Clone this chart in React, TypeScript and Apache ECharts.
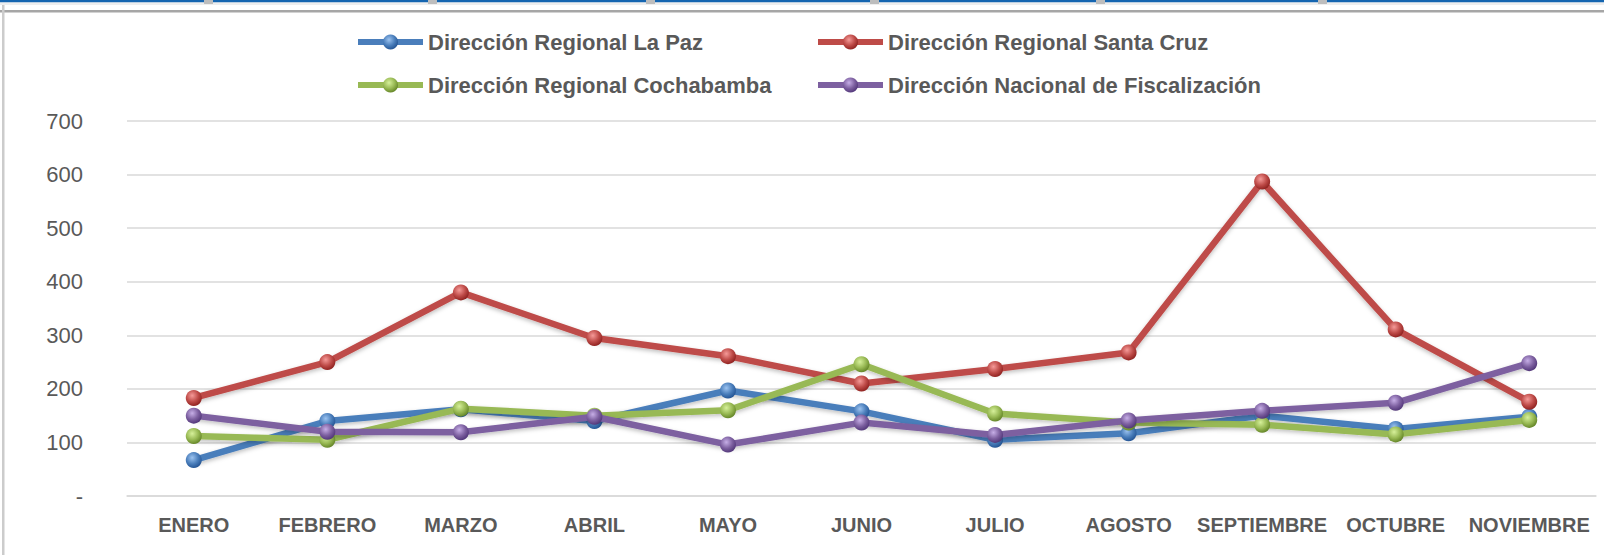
import React, { useEffect, useRef } from "react";
import * as echarts from "echarts";

const months = ["ENERO", "FEBRERO", "MARZO", "ABRIL", "MAYO", "JUNIO", "JULIO", "AGOSTO", "SEPTIEMBRE", "OCTUBRE", "NOVIEMBRE"];
const laPaz = [67, 140, 162, 140, 197, 158, 105, 117, 150, 125, 148];
const santaCruz = [183, 250, 380, 295, 261, 210, 237, 268, 587, 311, 176];
const cochabamba = [112, 105, 163, 150, 160, 246, 154, 137, 133, 115, 142];
const fiscalizacion = [150, 120, 119, 148, 96, 137, 114, 141, 159, 174, 248];
const seriesNames = [
  "Dirección Regional La Paz",
  "Dirección Regional Santa Cruz",
  "Dirección Regional Cochabamba",
  "Dirección Nacional de Fiscalización",
];
const lineColors = ["#4A7EBB", "#BE4B48", "#98B954", "#7D60A0"];
const lightColors = ["#9cc3f0", "#f59a98", "#d6f09a", "#c6aee6"];
const darkColors = ["#1f4f8f", "#8a1d1b", "#5e7f22", "#4d3275"];
const nubXs = [204, 428, 646, 870, 1096, 1318];

const TEXT = "#595959";
const FONT = "Liberation Sans, Arial, sans-serif";

function sphere(i: number) {
  return {
    type: "radial",
    x: 0.4,
    y: 0.35,
    r: 0.7,
    colorStops: [
      { offset: 0, color: lightColors[i] },
      { offset: 0.55, color: lineColors[i] },
      { offset: 1, color: darkColors[i] },
    ],
  };
}

export default function App() {
  const ref = useRef<HTMLDivElement>(null);
  useEffect(() => {
    if (!ref.current) return;
    const chart = echarts.init(ref.current, undefined, { renderer: "svg" });
    const allData = [laPaz, santaCruz, cochabamba, fiscalizacion];
    const legendBase = {
      orient: "vertical",
      top: 26,
      itemWidth: 65,
      itemHeight: 19,
      itemGap: 21,
      lineStyle: { width: 6 },
      textStyle: { fontFamily: FONT, fontSize: 22, fontWeight: "bold", color: TEXT, lineHeight: 22 },
    };
    chart.setOption({
      animation: false,
      backgroundColor: "#ffffff",
      grid: { left: 127, right: 8, top: 121, bottom: 59, containLabel: false },
      legend: [
        { ...legendBase, left: 350, data: [seriesNames[0], seriesNames[2]] },
        { ...legendBase, left: 810, data: [seriesNames[1], seriesNames[3]] },
      ],
      xAxis: {
        type: "category",
        data: months,
        boundaryGap: true,
        axisLine: { show: true, lineStyle: { color: "#d9d9d9", width: 1.5 } },
        axisTick: { show: false },
        axisLabel: { fontFamily: FONT, fontSize: 20, fontWeight: "bold", color: TEXT, margin: 19, interval: 0 },
      },
      yAxis: {
        type: "value",
        min: 0,
        max: 700,
        interval: 100,
        axisLine: { show: false },
        axisTick: { show: false },
        splitLine: { lineStyle: { color: "#d9d9d9", width: 1.5 } },
        axisLabel: {
          fontFamily: FONT,
          fontSize: 22,
          color: TEXT,
          margin: 44,
          formatter: (v: number) => (v === 0 ? "-" : String(v)),
        },
      },
      series: allData.map((d, i) => ({
        name: seriesNames[i],
        type: "line",
        data: d,
        symbol: "circle",
        symbolSize: 16,
        showSymbol: true,
        lineStyle: {
          color: lineColors[i],
          width: 6.5,
          shadowColor: "rgba(0,0,0,0.25)",
          shadowBlur: 4,
          shadowOffsetY: 2,
        },
        itemStyle: { color: sphere(i), borderWidth: 0 },
        emphasis: { disabled: true },
        z: 2 + i,
      })),
      graphic: [
        { type: "rect", left: 0, top: 0, shape: { x: 0, y: 0, width: 1604, height: 2.5 }, style: { fill: "#1565B0" }, silent: true },
        { type: "rect", left: 0, top: 2.5, shape: { x: 0, y: 0, width: 1604, height: 2.5 }, style: { fill: "#eeeeee" }, silent: true },
        ...nubXs.map((x) => ({
          type: "rect",
          left: x,
          top: 0,
          shape: { x: 0, y: 0, width: 9, height: 4 },
          style: { fill: "#bdbdbd" },
          silent: true,
        })),
        { type: "rect", left: 0, top: 10, shape: { x: 0, y: 0, width: 1604, height: 2.5 }, style: { fill: "#a6a6a6" }, silent: true },
        { type: "rect", left: 2, top: 5, shape: { x: 0, y: 0, width: 2.5, height: 550 }, style: { fill: "#cccccc" }, silent: true },
      ],
    });
    return () => chart.dispose();
  }, []);
  return (
    <div
      ref={ref}
      style={{ position: "fixed", left: 0, top: 0, width: 1604, height: 555, background: "#fff" }}
    />
  );
}
